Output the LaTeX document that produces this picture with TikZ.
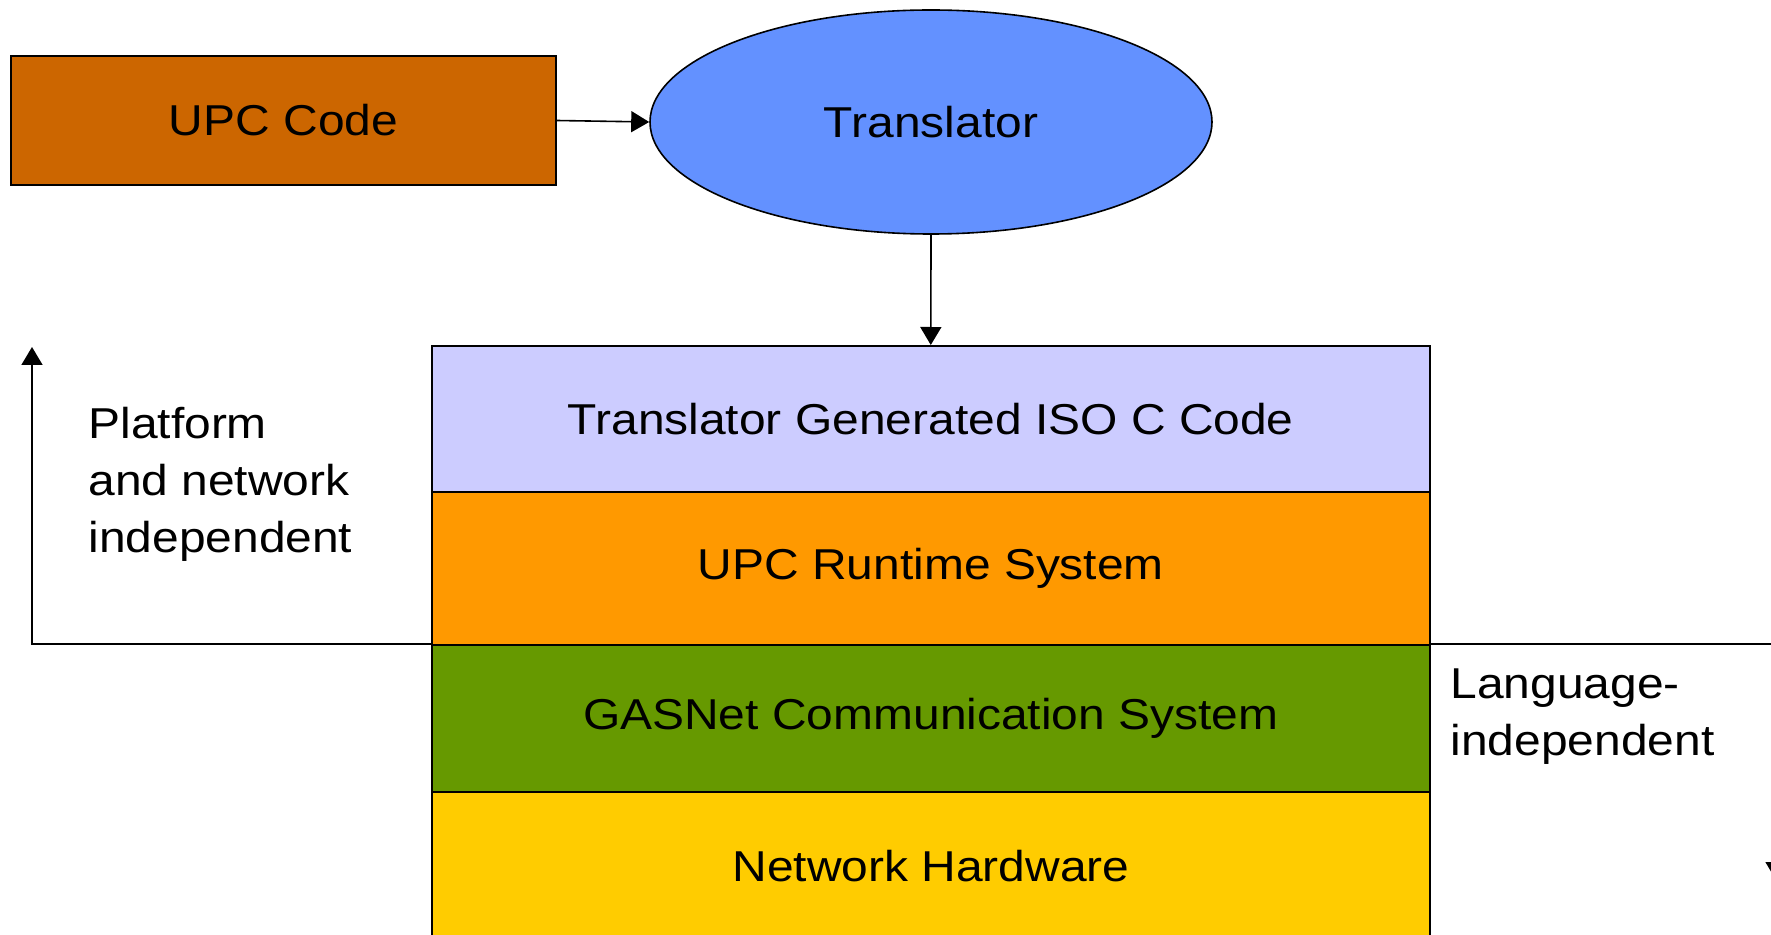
\documentclass[tikz,border=0pt]{standalone}
\usepackage{fontspec}
\setmainfont[FakeStretch=1.11]{Liberation Sans}
\usetikzlibrary{arrows.meta,shapes.geometric}
\definecolor{upcbrown}{HTML}{CC6600}
\definecolor{transblue}{HTML}{6391FF}
\definecolor{lavender}{HTML}{CCCCFF}
\definecolor{rtorange}{HTML}{FF9900}
\definecolor{gasgreen}{HTML}{669900}
\definecolor{hwyellow}{HTML}{FFCC00}
\tikzset{
  lbl/.style={font=\fontsize{21.6pt}{28.5pt}\selectfont},
  box/.style={lbl, draw=black, line width=0.8pt, rectangle, inner sep=0pt},
  layer/.style={box, minimum width=499pt, anchor=north west},
  conn/.style={line width=0.8pt, -{Triangle[length=9pt,width=10.5pt]}},
  plain/.style={line width=0.8pt}
}
\begin{document}
\begin{tikzpicture}[x=0.5pt,y=-0.5pt]
\useasboundingbox (0,0) rectangle (1771,935);
\clip (0,0) rectangle (1771,935);
% layers
\node[layer, fill=lavender, minimum height=73pt] (iso) at (431,345) {Translator Generated ISO C Code};
\node[layer, fill=rtorange, minimum height=76.5pt] (rts) at (431,491) {UPC Runtime System};
\node[layer, fill=gasgreen, minimum height=74pt] (gas) at (431,644) {GASNet Communication System};
\node[layer, fill=hwyellow, minimum height=80pt] (hw) at (431,791) {};
\node[lbl] (hwt) at (931,866) {Network Hardware};
% top
\node[box, fill=upcbrown, minimum width=272.5pt, minimum height=64.5pt] (upc) at (283.5,120.5) {UPC Code};
\node[box, ellipse, fill=transblue, minimum width=281pt, minimum height=112pt] (tr) at (931,122) {Translator};
\draw[conn] (upc.east) -- (tr.west);
\draw[conn] (tr.south) -- (iso.north);
% left bracket arrow
\coordinate (lt) at (32,347);
\draw[conn] (gas.north west) -| (lt);
\node[lbl, align=left, anchor=base west, inner sep=0pt] (pni) at (88,552) {Platform\\and network\\independent};
% right bracket arrow
\coordinate (rb) at (1776,880);
\draw[conn] (gas.north east) -| (rb);
\node[lbl, align=left, anchor=base west, inner sep=0pt] (li) at (1450,755) {Language-\\independent};
\end{tikzpicture}
\end{document}
